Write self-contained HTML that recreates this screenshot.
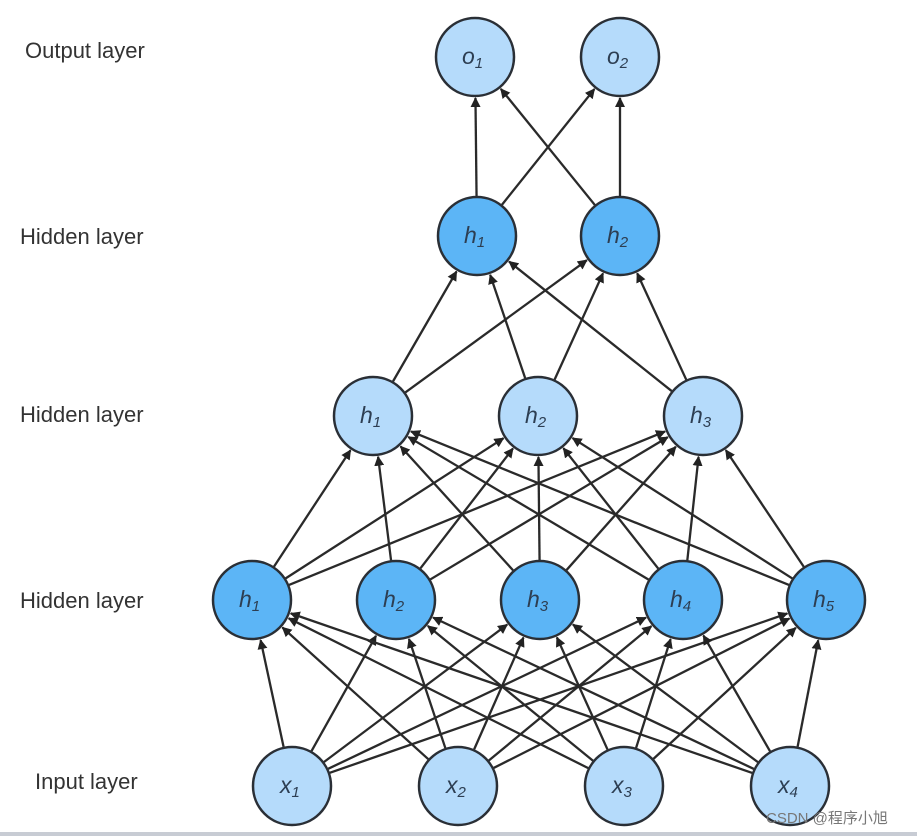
<!DOCTYPE html>
<html><head><meta charset="utf-8"><style>
html,body{margin:0;padding:0;background:#fff;}
svg{display:block;}
.lbl{font-family:"Liberation Sans",sans-serif;font-size:22px;fill:#333;}
.nt{font-family:"Liberation Sans",sans-serif;font-style:italic;font-size:23px;fill:#2d3e52;}
.sub{font-size:15px;}
.l{fill:#b5dbfb;stroke:#2a2f36;stroke-width:2.5;}
.d{fill:#5cb5f6;stroke:#2a2f36;stroke-width:2.5;}
</style></head><body>
<svg id="s" width="917" height="836" viewBox="0 0 917 836" xmlns="http://www.w3.org/2000/svg">
<defs><marker id="a" markerWidth="10" markerHeight="10" refX="9" refY="5" orient="auto" markerUnits="userSpaceOnUse"><path d="M0,0 L10,5 L0,10 z" fill="#222"/></marker></defs>
<g id="edges" stroke="#2a2a2a" stroke-width="2.3" marker-end="url(#a)"></g>
<text class="lbl" x="25" y="58">Output layer</text>
<text class="lbl" x="20" y="244">Hidden layer</text>
<text class="lbl" x="20" y="422">Hidden layer</text>
<text class="lbl" x="20" y="608">Hidden layer</text>
<text class="lbl" x="35" y="789">Input layer</text>
<g>
<circle class="l" cx="475" cy="57" r="39"/><text class="nt" x="462" y="64">o<tspan class="sub" dy="4">1</tspan></text>
<circle class="l" cx="620" cy="57" r="39"/><text class="nt" x="607" y="64">o<tspan class="sub" dy="4">2</tspan></text>
<circle class="d" cx="477" cy="236" r="39"/><text class="nt" x="464" y="243">h<tspan class="sub" dy="4">1</tspan></text>
<circle class="d" cx="620" cy="236" r="39"/><text class="nt" x="607" y="243">h<tspan class="sub" dy="4">2</tspan></text>
<circle class="l" cx="373" cy="416" r="39"/><text class="nt" x="360" y="423">h<tspan class="sub" dy="4">1</tspan></text>
<circle class="l" cx="538" cy="416" r="39"/><text class="nt" x="525" y="423">h<tspan class="sub" dy="4">2</tspan></text>
<circle class="l" cx="703" cy="416" r="39"/><text class="nt" x="690" y="423">h<tspan class="sub" dy="4">3</tspan></text>
<circle class="d" cx="252" cy="600" r="39"/><text class="nt" x="239" y="607">h<tspan class="sub" dy="4">1</tspan></text>
<circle class="d" cx="396" cy="600" r="39"/><text class="nt" x="383" y="607">h<tspan class="sub" dy="4">2</tspan></text>
<circle class="d" cx="540" cy="600" r="39"/><text class="nt" x="527" y="607">h<tspan class="sub" dy="4">3</tspan></text>
<circle class="d" cx="683" cy="600" r="39"/><text class="nt" x="670" y="607">h<tspan class="sub" dy="4">4</tspan></text>
<circle class="d" cx="826" cy="600" r="39"/><text class="nt" x="813" y="607">h<tspan class="sub" dy="4">5</tspan></text>
<circle class="l" cx="292" cy="786" r="39"/><text class="nt" x="280" y="793">x<tspan class="sub" dy="4">1</tspan></text>
<circle class="l" cx="458" cy="786" r="39"/><text class="nt" x="446" y="793">x<tspan class="sub" dy="4">2</tspan></text>
<circle class="l" cx="624" cy="786" r="39"/><text class="nt" x="612" y="793">x<tspan class="sub" dy="4">3</tspan></text>
<circle class="l" cx="790" cy="786" r="39"/><text class="nt" x="778" y="793">x<tspan class="sub" dy="4">4</tspan></text>
</g>
<text x="766" y="823" style="font-family:'Liberation Sans','Noto Sans CJK SC',sans-serif;font-size:15px;fill:#777;">CSDN @程序小旭</text>
<rect x="0" y="832" width="917" height="4" fill="#c8ccd4"/>
</svg>
<script>
var L=[[[475,57],[620,57]],[[477,236],[620,236]],[[373,416],[538,416],[703,416]],[[252,600],[396,600],[540,600],[683,600],[826,600]],[[292,786],[458,786],[624,786],[790,786]]];
var g=document.getElementById('edges'),r=40;
for(var i=1;i<L.length;i++)for(var a=0;a<L[i].length;a++)for(var b=0;b<L[i-1].length;b++){
var s=L[i][a],t=L[i-1][b],dx=t[0]-s[0],dy=t[1]-s[1],d=Math.sqrt(dx*dx+dy*dy),ux=dx/d,uy=dy/d;
var e=document.createElementNS('http://www.w3.org/2000/svg','line');
e.setAttribute('x1',s[0]+ux*r);e.setAttribute('y1',s[1]+uy*r);
e.setAttribute('x2',t[0]-ux*(r+1));e.setAttribute('y2',t[1]-uy*(r+1));g.appendChild(e);}
</script>
</body></html>
